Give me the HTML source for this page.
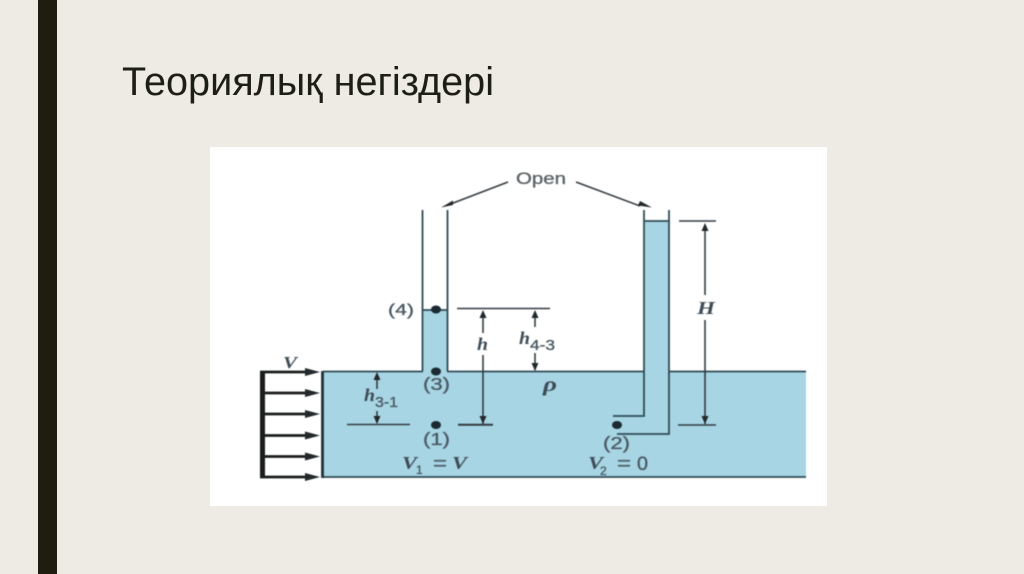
<!DOCTYPE html>
<html>
<head>
<meta charset="utf-8">
<style>
html,body{margin:0;padding:0;width:1024px;height:574px;overflow:hidden;background:#edebe4}
svg{display:block}
.l{stroke:#2f4a55;stroke-width:1.8;fill:none}
.d{stroke:#333b40;stroke-width:1.6;fill:none}
.a{fill:#23282a}
.t{font-family:"Liberation Sans",sans-serif;fill:#4b5a64;stroke:#4b5a64;stroke-width:.35}
.s{font-family:"Liberation Serif",serif;font-style:italic;fill:#3f4c56;font-weight:bold}
.dg{filter:blur(.45px)}
</style>
</head>
<body>
<svg width="1024" height="574" viewBox="0 0 1024 574" xmlns="http://www.w3.org/2000/svg">
<rect width="1024" height="574" fill="#edebe4"/>
<rect x="38" y="0" width="19" height="574" fill="#1d1e10"/>
<text x="122" y="95" font-family="'Liberation Sans',sans-serif" font-size="40" fill="#1d1e14" textLength="372" lengthAdjust="spacingAndGlyphs" style="filter:blur(.3px)">Теориялық негіздері</text>
<rect x="210" y="147" width="617" height="359" fill="#ffffff"/>

<g class="dg">
<!-- water -->
<rect x="323" y="371" width="483" height="106" fill="#a7d5e4"/>
<rect x="423" y="310" width="24" height="62" fill="#a7d5e4"/>
<rect x="645" y="221" width="24" height="151" fill="#a7d5e4"/>

<!-- water outlines -->
<path class="l" d="M323 371.500H423M447 371.500H644M669 371.500H806"/>
<path class="l" d="M323 477H806"/>
<path d="M322.500 371V478" stroke="#1f3038" stroke-width="2.800" fill="none"/>
<!-- left tube -->
<path class="l" d="M422.500 210V371M447.500 210V371M423 310H447"/>
<!-- right tube -->
<path class="l" d="M644 210V416H613M669 210V434H617M645 221H669"/>

<!-- open arrows -->
<path class="d" d="M508 182L448 205M576 182L640 206"/>
<path class="a" d="M441 207.500L453 200.500L453 205Z"/>
<path class="a" d="M652 207.500L640 201L638 205.500Z"/>
<text class="t" x="516" y="184" font-size="17" textLength="50" lengthAdjust="spacingAndGlyphs" style="fill:#5c6266;stroke:#5c6266">Open</text>

<!-- H dim -->
<path class="d" d="M679 221H716M705 226V295M705 320V424M678 425H716"/>
<path class="a" d="M705 223L708.500 231H701.500Z"/>
<path class="a" d="M705 424L701.500 416H708.500Z"/>
<text class="s" x="697" y="314" font-size="18" textLength="18" lengthAdjust="spacingAndGlyphs">H</text>

<!-- h dim -->
<path class="d" d="M457 308.500H550M483 315V333M483 355V424M458 425H493"/>
<path class="a" d="M483 310L486.500 318H479.500Z"/>
<path class="a" d="M483 424L479.500 416H486.500Z"/>
<text class="s" x="477" y="350" font-size="18" textLength="11" lengthAdjust="spacingAndGlyphs">h</text>

<!-- h4-3 -->
<path class="d" d="M535 315V327M535 353V370"/>
<path class="a" d="M535 310L538.500 318H531.500Z"/>
<path class="a" d="M535 371L531.500 363H538.500Z"/>
<text class="s" x="519" y="344" font-size="18" textLength="11" lengthAdjust="spacingAndGlyphs">h</text>
<text class="t" x="530" y="350" font-size="14.500" textLength="25" lengthAdjust="spacingAndGlyphs">4-3</text>

<!-- h3-1 -->
<path class="d" d="M377 378V389M377 411V423M347 424.500H410M458 424.500H493"/>
<path class="a" d="M377 372L380.500 380H373.500Z"/>
<path class="a" d="M377 424L373.500 416H380.500Z"/>
<text class="s" x="364" y="401" font-size="18" textLength="11" lengthAdjust="spacingAndGlyphs">h</text>
<text class="t" x="375" y="407" font-size="14.500" textLength="23" lengthAdjust="spacingAndGlyphs">3-1</text>

<!-- points -->
<ellipse cx="436" cy="309.500" rx="5" ry="4" fill="#1c2a33"/>
<ellipse cx="436" cy="371.500" rx="5" ry="4" fill="#1c2a33"/>
<ellipse cx="436" cy="425" rx="5" ry="4" fill="#1c2a33"/>
<ellipse cx="617" cy="425" rx="5" ry="4" fill="#1c2a33"/>
<text class="t" x="388" y="315" font-size="16" textLength="26" lengthAdjust="spacingAndGlyphs">(4)</text>
<text class="t" x="423" y="390" font-size="17.500" textLength="27" lengthAdjust="spacingAndGlyphs">(3)</text>
<text class="t" x="423" y="445" font-size="17.500" textLength="27" lengthAdjust="spacingAndGlyphs">(1)</text>
<text class="t" x="603" y="449" font-size="17.500" textLength="27" lengthAdjust="spacingAndGlyphs">(2)</text>

<!-- rho -->
<text class="s" x="543" y="391" font-size="20" textLength="14" lengthAdjust="spacingAndGlyphs">ρ</text>

<!-- V labels -->
<text class="s" x="283" y="368" font-size="17" textLength="14" lengthAdjust="spacingAndGlyphs">V</text>
<text class="s" x="402" y="469" font-size="18" textLength="15" lengthAdjust="spacingAndGlyphs">V</text>
<text class="t" x="416" y="474" font-size="12">1</text>
<text class="t" x="433" y="470" font-size="19" textLength="14" lengthAdjust="spacingAndGlyphs">=</text>
<text class="s" x="452" y="469" font-size="18" textLength="15" lengthAdjust="spacingAndGlyphs">V</text>
<text class="s" x="588" y="469" font-size="18" textLength="15" lengthAdjust="spacingAndGlyphs">V</text>
<text class="t" x="600" y="475" font-size="12">2</text>
<text class="t" x="617" y="470" font-size="19" textLength="14" lengthAdjust="spacingAndGlyphs">=</text>
<text class="t" x="637" y="470" font-size="19" textLength="11" lengthAdjust="spacingAndGlyphs">0</text>

<!-- velocity profile -->
<path d="M262.500 371V478" stroke="#1a1c1e" stroke-width="5" fill="none"/>
<g stroke="#1a1c1e" stroke-width="2.800" fill="none">
<path d="M260 372H312M260 393H312M260 414H312M260 435.500H312M260 456.500H312M260 477H312"/>
</g>
<g class="a">
<path d="M320 372L305 368V376Z"/>
<path d="M320 393L305 389V397Z"/>
<path d="M320 414L305 410V418Z"/>
<path d="M320 435.500L305 431.500V439.500Z"/>
<path d="M320 456.500L305 452.500V460.500Z"/>
<path d="M320 477L305 473V481Z"/>
</g>
</g>
</svg>
</body>
</html>
